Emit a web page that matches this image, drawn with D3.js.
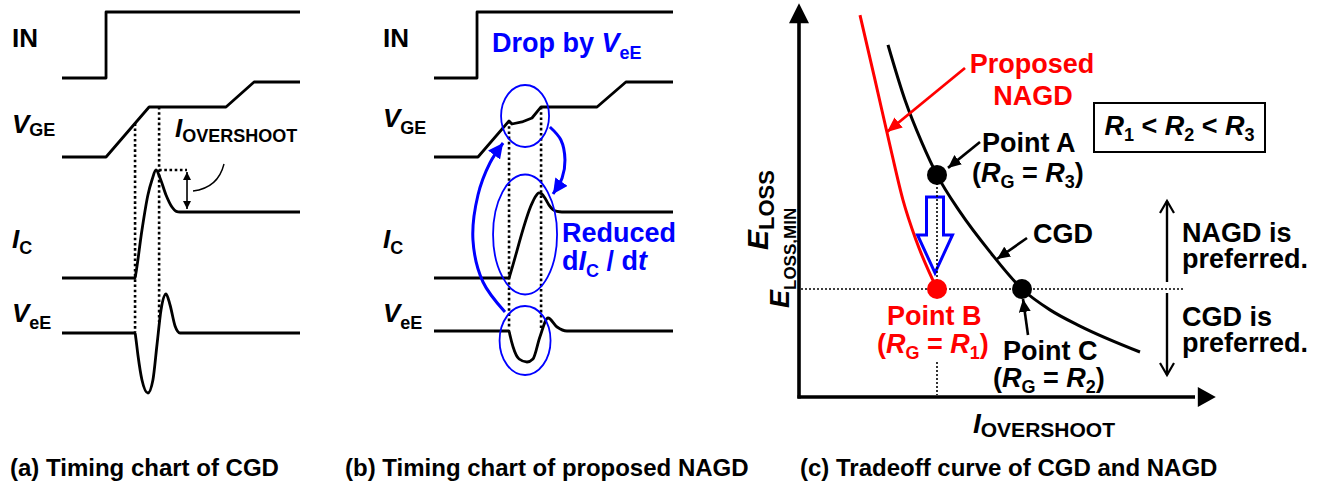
<!DOCTYPE html>
<html><head><meta charset="utf-8">
<script src="https://cdn.jsdelivr.net/npm/d3@7"></script>
<style>
html,body{margin:0;padding:0;background:#fff;}
svg{display:block;font-family:"Liberation Sans",Arial,Helvetica,sans-serif;font-weight:bold;}
</style></head><body>
<svg id="fig" width="1325" height="485"></svg>
<script>
// ---------------- data ----------------
const captions = ["(a) Timing chart of CGD", "(b) Timing chart of proposed NAGD", "(c) Tradeoff curve of CGD and NAGD"];

// Timing waveforms, [time, level]; time runs 0..10 across each timing panel
const inA   = [[0,0],[1.85,0],[1.85,1],[10,1]];
const vgeA  = [[0,0],[1.85,0],[3.66,0.667],[6.89,0.667],[8.07,1],[10,1]];
const icA   = [[0,0],[3.07,0],[3.10,0.06],[3.36,0.727],[3.61,1.258],[3.78,1.485],[3.95,1.636],[4.12,1.515],[4.37,1.258],[4.62,1.076],[4.80,1.01],[4.96,1],[10,1]];
const veeA  = [[0,0],[3.07,0],[3.10,-0.12],[3.19,-0.55],[3.36,-1.175],[3.61,-1.5],[3.82,-1.175],[3.99,-0.3],[4.16,0.575],[4.37,0.975],[4.54,0.7],[4.75,0.175],[4.96,0],[10,0]];
const edgesA = [3.07, 4.08];            // switching instants (dotted markers)

const inB   = [[0,0],[1.8,0],[1.8,1],[10,1]];
const vgeB  = [[0,0],[1.84,0],[3.14,0.48],[3.26,0.44],[3.68,0.467],[4.10,0.52],[4.48,0.667],[6.82,0.667],[8.03,1],[10,1]];
const icB   = [[0,0],[3.14,0],[3.16,0.023],[4.10,1.13],[4.24,1.23],[4.39,1.29],[4.52,1.27],[4.66,1.2],[4.82,1.1],[4.98,1.035],[5.15,1.008],[5.35,1],[10,1]];
const veeB  = [[0,0],[3.14,0],[3.17,-0.08],[3.31,-0.4],[3.56,-0.7],[3.89,-0.775],[4.14,-0.7],[4.43,-0.15],[4.77,0.325],[5.15,0.1],[5.56,0],[10,0]];
const edgesB = [3.14, 4.48];

// Trade-off curves, [I_overshoot, E_loss] in arbitrary units
const cgdCurve  = [[2.225,9.78],[2.65,8.25],[3.075,7.06],[3.45,6.17],[4.025,5.14],[4.775,4.03],[5.575,3.0],[6.275,2.42],[7.025,1.97],[8.525,1.25]];
const nagdCurve = [[1.525,10.61],[1.9,8.81],[2.3,6.86],[2.6,5.47],[2.925,4.36],[3.45,3.0]];
const pointA = [3.45, 6.17];
const pointB = [3.45, 3.0];
const pointC = [5.575, 3.0];
const eLossMin = 3.0;

// ---------------- helpers ----------------
const svg = d3.select("#fig");
const BLUE = "#0000ff", RED = "#ff0000";

// one text element holding one or more lines; each line is [x, y, parts],
// a part is {t, i:italic, s:subscript}
function label(g, lines, o = {}) {
  const size = o.size || 27, sub = o.sub || 18, dy = o.dy || 5;
  const t = g.append("text").attr("font-size", size).attr("fill", o.fill || "#000")
    .attr("text-anchor", o.anchor || "start");
  if (o.rotate) t.attr("transform", `rotate(${o.rotate},${lines[0][0]},${lines[0][1]})`);
  lines.forEach(([x, y, parts]) => {
    let lowered = false;
    parts.forEach((p, k) => {
      const s = t.append("tspan").text(p.t);
      if (k === 0) s.attr("x", x).attr("y", y);
      if (p.i) s.attr("font-style", "italic");
      if (p.s) { s.attr("font-size", sub); if (!lowered) { s.attr("dy", dy); lowered = true; } }
      else if (lowered) { s.attr("dy", -dy); lowered = false; }
    });
  });
  return t;
}
const rich = (g, x, y, parts, o) => label(g, [[x, y, parts]], o);

function interp(data, t) {
  for (let k = 1; k < data.length; k++) {
    const [t0, v0] = data[k-1], [t1, v1] = data[k];
    if (t >= t0 && t <= t1) return t1 === t0 ? v1 : v0 + (v1 - v0) * (t - t0) / (t1 - t0);
  }
  return data[data.length-1][1];
}

// arrow head markers
const defs = svg.append("defs");
function marker(id, color, len, wid) {
  defs.append("marker").attr("id", id).attr("markerUnits", "userSpaceOnUse")
    .attr("viewBox", `0 0 ${len} ${wid}`).attr("refX", len).attr("refY", wid/2)
    .attr("markerWidth", len).attr("markerHeight", wid).attr("orient", "auto-start-reverse")
    .append("path").attr("d", `M0,0L${len},${wid/2}L0,${wid}Z`).attr("fill", color);
}
marker("hBlack", "#000", 13, 12);
marker("hSmall", "#000", 8, 8);
marker("hRed", RED, 15, 13);
marker("hBlue", BLUE, 15, 15);

// ---------------- timing panels ----------------
function timingPanel(cfg) {
  const g = svg.append("g");
  const x = d3.scaleLinear().domain([0, 10]).range(cfg.xr);
  const sc = cfg.y;
  const line = (ys, curve) => d3.line().x(d => x(d[0])).y(d => ys(d[1])).curve(curve || d3.curveLinear);
  const wave = (data, ys, curve) => g.append("path").datum(data).attr("d", line(ys, curve))
      .attr("fill", "none").attr("stroke", "#000").attr("stroke-width", 2.8).attr("stroke-linejoin", "round");

  // dotted switching markers
  cfg.edges.forEach((t, k) => {
    g.append("line").attr("x1", x(t)).attr("x2", x(t))
      .attr("y1", sc.vge(interp(cfg.vge, t))).attr("y2", cfg.dotEnd[k])
      .attr("stroke", "#000").attr("stroke-width", 2.6).attr("stroke-dasharray", "2.6,2.6");
  });

  wave(cfg.inw, sc.in);
  wave(cfg.vge, sc.vge);
  wave(cfg.ic, sc.ic, d3.curveMonotoneX);
  wave(cfg.vee, sc.vee, d3.curveMonotoneX);

  // trace names
  rich(g, cfg.lx, 47, [{t:"IN"}], {size: 26});
  rich(g, cfg.lx, cfg.vgeBase, [{t:"V", i:1},{t:"GE", s:1}], {size: 26, dy: cfg.vgeDy});
  rich(g, cfg.lx, 248, [{t:"I", i:1},{t:"C", s:1}], {size: 26, dy: 6});
  rich(g, cfg.lx, 322, [{t:"V", i:1},{t:"eE", s:1}], {size: 26, dy: 7});
  return {g, x};
}

const yIn  = d3.scaleLinear().domain([0,1]).range([78,12]);
const yVge = d3.scaleLinear().domain([0,1]).range([157,82]);
const yIc  = d3.scaleLinear().domain([0,1]).range([278,212]);

// (a) conventional gate drive
const pa = timingPanel({
  xr: [62, 300], lx: 12, inw: inA, vge: vgeA, ic: icA, vee: veeA, edges: edgesA,
  vgeBase: 133, vgeDy: 3, dotEnd: [332, 322],
  y: {in: yIn, vge: yVge, ic: yIc, vee: d3.scaleLinear().domain([0,1]).range([333,293])}
});
{
  const g = pa.g, x = pa.x;
  const peakT = 3.95, peakY = yIc(d3.max(icA, d => d[1])), setY = yIc(1);
  const ax = x(peakT) + 31;
  g.append("line").attr("x1", x(edgesA[1])).attr("x2", ax).attr("y1", peakY).attr("y2", peakY)
    .attr("stroke", "#000").attr("stroke-width", 2.6).attr("stroke-dasharray", "2.6,2.6");
  g.append("line").attr("x1", ax).attr("x2", ax).attr("y1", peakY + 2).attr("y2", setY - 3)
    .attr("stroke", "#000").attr("stroke-width", 1.6)
    .attr("marker-start", "url(#hSmall)").attr("marker-end", "url(#hSmall)");
  g.append("path").attr("d", `M${ax+6},${(peakY+setY)/2}Q${ax+31},${(peakY+setY)/2-3} ${ax+37},${peakY-6}`)
    .attr("fill", "none").attr("stroke", "#000").attr("stroke-width", 1.4);
  rich(g, 175, 137, [{t:"I", i:1},{t:"OVERSHOOT", s:1}], {size: 26, dy: 5});
}

// (b) proposed NAGD
const pb = timingPanel({
  xr: [434, 673], lx: 383, inw: inB, vge: vgeB, ic: icB, vee: veeB, edges: edgesB,
  vgeBase: 127, vgeDy: 7, dotEnd: [328, 328],
  y: {in: yIn, vge: yVge, ic: yIc, vee: d3.scaleLinear().domain([0,1]).range([331,291])}
});
{
  const g = pb.g, x = pb.x;
  const cx = (x(edgesB[0]) + x(edgesB[1])) / 2;
  [[116, 24, 31], [234.5, 32, 60], [340.5, 25.5, 34.5]].forEach(([cy, rx, ry]) =>
    g.append("ellipse").attr("cx", cx).attr("cy", cy).attr("rx", rx).attr("ry", ry)
      .attr("fill", "none").attr("stroke", BLUE).attr("stroke-width", 1.8));
  const loop = d3.line().x(d => x(d[0])).y(d => d[1]).curve(d3.curveCatmullRom);
  // V_eE feeds back onto the gate ...
  g.append("path").datum([[2.97,312],[2.05,282],[1.63,240],[1.84,195],[2.34,163],[2.89,143]]).attr("d", loop)
    .attr("fill", "none").attr("stroke", BLUE).attr("stroke-width", 3).attr("marker-end", "url(#hBlue)");
  // ... and the lowered gate voltage slows the current rise
  g.append("path").datum([[4.85,127],[5.31,140],[5.48,160],[5.36,178],[4.98,194]]).attr("d", loop)
    .attr("fill", "none").attr("stroke", BLUE).attr("stroke-width", 3).attr("marker-end", "url(#hBlue)");
  rich(g, 492, 52, [{t:"Drop by "},{t:"V", i:1},{t:"eE", s:1}], {fill: BLUE, dy: 7});
  label(g, [[562, 242, [{t:"Reduced"}]],
            [562, 270, [{t:"d"},{t:"I", i:1},{t:"C", s:1},{t:" / d"},{t:"t", i:1}]]], {fill: BLUE, dy: 7});
}

// ---------------- (c) trade-off ----------------
{
  const g = svg.append("g");
  const x = d3.scaleLinear().domain([0, 10]).range([799, 1199]);
  const y = d3.scaleLinear().domain([0, 10]).range([397, 37]);
  const x0 = x(0), y0 = y(0);

  // axes
  g.append("line").attr("x1", x0).attr("x2", x0).attr("y1", y0 + 1.5).attr("y2", y(10.4))
    .attr("stroke", "#000").attr("stroke-width", 3.6);
  g.append("path").attr("d", `M${x0},${y(10.94)}L${x0-10},${y(10.38)}L${x0+10},${y(10.38)}Z`).attr("fill", "#000");
  g.append("line").attr("x1", x0 - 1.5).attr("x2", x(9.9)).attr("y1", y0).attr("y2", y0)
    .attr("stroke", "#000").attr("stroke-width", 3.6);
  g.append("path").attr("d", `M${x(10.42)},${y0}L${x(9.97)},${y0-10}L${x(9.97)},${y0+10}Z`).attr("fill", "#000");

  const ln = d3.line().x(d => x(d[0])).y(d => y(d[1])).curve(d3.curveMonotoneX);
  g.append("path").datum(nagdCurve).attr("d", ln).attr("fill", "none").attr("stroke", RED).attr("stroke-width", 3);
  g.append("path").datum(cgdCurve).attr("d", ln).attr("fill", "none").attr("stroke", "#000").attr("stroke-width", 3);

  // hollow arrow from A down to B
  const ax = x(pointA[0]) - 2, top = y(pointA[1]) + 22, tip = y(pointB[1]) - 16, neck = top + 38;
  g.append("path").attr("d", `M${ax-8.5},${top}H${ax+8.5}V${neck}H${ax+17.5}L${ax},${tip}L${ax-17.5},${neck}H${ax-8.5}Z`)
    .attr("fill", "#fff").attr("stroke", BLUE).attr("stroke-width", 3).attr("stroke-linejoin", "miter");

  // dotted guides
  const dot = (x1, y1, x2, y2) => g.append("line").attr("x1", x1).attr("y1", y1).attr("x2", x2).attr("y2", y2)
    .attr("stroke", "#000").attr("stroke-width", 1.6).attr("stroke-dasharray", "2,2");
  dot(x0 + 2, y(eLossMin), x(9.6), y(eLossMin));
  dot(x(pointA[0]), y(pointA[1]), x(pointB[0]), y(pointB[1]));
  dot(x(pointB[0]), y(0.97), x(pointB[0]), y0 - 2);

  // operating points
  [[pointA, "#000"], [pointB, RED], [pointC, "#000"]].forEach(([p, c]) =>
    g.append("circle").attr("cx", x(p[0])).attr("cy", y(p[1])).attr("r", 10).attr("fill", c));

  // annotation arrows
  const arr = (x1, y1, x2, y2, m, c, w) => g.append("line").attr("x1", x1).attr("y1", y1).attr("x2", x2).attr("y2", y2)
    .attr("stroke", c).attr("stroke-width", w).attr("marker-end", `url(#${m})`);
  arr(965, 68, x(2.2), 132, "hRed", RED, 2.8);
  arr(980, 142, x(pointA[0]) + 11, y(pointA[1]) - 7, "hBlack", "#000", 2.6);
  arr(1027, 238, 997, 259, "hBlack", "#000", 2.6);
  arr(1028, 335, x(pointC[0]) + 1, y(pointC[1]) + 10, "hBlack", "#000", 2.6);

  // text
  const rg = n => [{t:"("},{t:"R", i:1},{t:"G", s:1},{t:" = "},{t:"R", i:1},{t:n, s:1},{t:")"}];
  label(g, [[1032, 73, [{t:"Proposed"}]], [1033, 105, [{t:"NAGD"}]]], {fill: RED, anchor: "middle"});
  label(g, [[982, 152, [{t:"Point A"}]], [972, 182, rg("3")]], {dy: 6});
  rich(g, 1033, 243, [{t:"CGD"}]);
  label(g, [[887, 325, [{t:"Point B"}]], [877, 353, rg("1")]], {fill: RED, dy: 6});
  label(g, [[1003, 360, [{t:"Point C"}]], [993, 387, rg("2")]], {dy: 6});

  g.append("rect").attr("x", 1094).attr("y", 103).attr("width", 171).attr("height", 49)
    .attr("fill", "none").attr("stroke", "#000").attr("stroke-width", 2);
  rich(g, 1179.5, 135, [{t:"R", i:1},{t:"1", s:1},{t:" < "},{t:"R", i:1},{t:"2", s:1},{t:" < "},{t:"R", i:1},{t:"3", s:1}], {anchor: "middle", dy: 6});

  // preference region arrows
  const vx = 1167, mid = y(eLossMin);
  const chev = (yt, dir) => g.append("path").attr("d", `M${vx-7},${yt+dir*12}L${vx},${yt}L${vx+7},${yt+dir*12}`)
    .attr("fill", "none").attr("stroke", "#000").attr("stroke-width", 2.2);
  g.append("line").attr("x1", vx).attr("x2", vx).attr("y1", mid - 7).attr("y2", 201).attr("stroke", "#000").attr("stroke-width", 2.4);
  chev(201, 1);
  g.append("line").attr("x1", vx).attr("x2", vx).attr("y1", mid + 4).attr("y2", 375).attr("stroke", "#000").attr("stroke-width", 2.4);
  chev(375, -1);
  label(g, [[1182, 242, [{t:"NAGD is"}]], [1182, 268, [{t:"preferred."}]]]);
  label(g, [[1182, 326, [{t:"CGD is"}]], [1182, 352, [{t:"preferred."}]]]);

  // axis titles
  rich(g, 973, 433, [{t:"I", i:1},{t:"OVERSHOOT", s:1}], {size: 28, sub: 21, dy: 4});
  rich(g, 768, 250, [{t:"E", i:1},{t:"LOSS", s:1}], {size: 30, sub: 22, dy: 6, rotate: -90});
  rich(g, 789, 308, [{t:"E", i:1},{t:"LOSS,MIN", s:1}], {size: 27, sub: 17, dy: 7, rotate: -90});
}

// ---------------- captions ----------------
svg.selectAll("text.cap").data(captions).join("text").attr("class", "cap")
  .attr("x", (d, i) => [10, 345, 800][i]).attr("y", 476)
  .attr("font-size", 24).text(d => d);
</script>
</body></html>
